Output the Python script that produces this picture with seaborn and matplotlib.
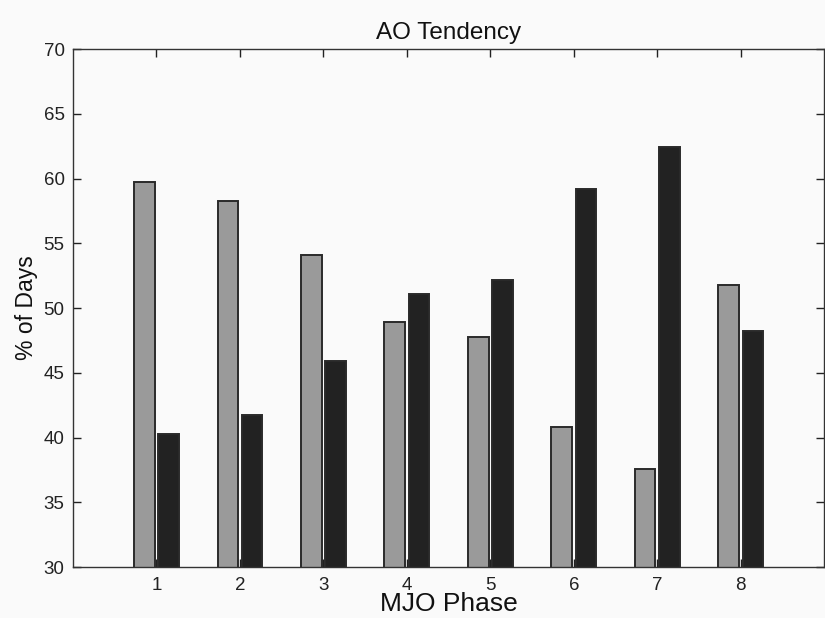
import numpy as np
import pandas as pd
import matplotlib
matplotlib.use('Agg')
import matplotlib.pyplot as plt
import seaborn as sns

# Values
phases = ['1', '2', '3', '4', '5', '6', '7', '8']
pct_gray = [59.7, 58.3, 54.1, 48.9, 47.8, 40.8, 37.6, 51.8]
pct_black = [40.3, 41.7, 45.9, 51.1, 52.2, 59.2, 62.4, 48.2]
series = ['gray', 'black']

df = pd.DataFrame({
    'phase': phases * 2,
    'pct': pct_gray + pct_black,
    'series': [series[0]] * len(phases) + [series[1]] * len(phases),
})

sns.set_style('ticks')
plt.rcParams['font.family'] = ['Liberation Sans', 'DejaVu Sans']
bg = '#fafafa'

fig = plt.figure(figsize=(8.25, 6.18), dpi=100, facecolor=bg)
ax = fig.add_axes([0.0885, 0.0825, 0.9105, 0.8382])
ax.set_facecolor(bg)

sns.barplot(data=df, x='phase', y='pct', hue='series', order=phases,
            hue_order=series, palette=['#9a9a9a', '#222222'],
            width=0.58, gap=0.15, edgecolor='#2a2a2a', linewidth=1.4,
            legend=False, ax=ax)

ax.set_xlim(-1, 8)
ax.set_ylim(30, 70)
ax.set_yticks(np.arange(30, 71, 5))

ax.set_title('AO Tendency', fontsize=17.5, pad=7, color='#111111')
ax.set_xlabel('MJO Phase', fontsize=19, labelpad=-1, color='#111111')
ax.set_ylabel('% of Days', fontsize=16.5, labelpad=4, color='#111111')

ax.tick_params(axis='both', direction='in', length=6, width=1.0,
               labelsize=13.5, colors='#222222', top=True, right=True)
ax.tick_params(axis='x', pad=7)
ax.tick_params(axis='y', pad=6)
for s in ax.spines.values():
    s.set_visible(True)
    s.set_color('#333333')
    s.set_linewidth(1.0)

fig.savefig('out.png', dpi=100, facecolor=bg)
